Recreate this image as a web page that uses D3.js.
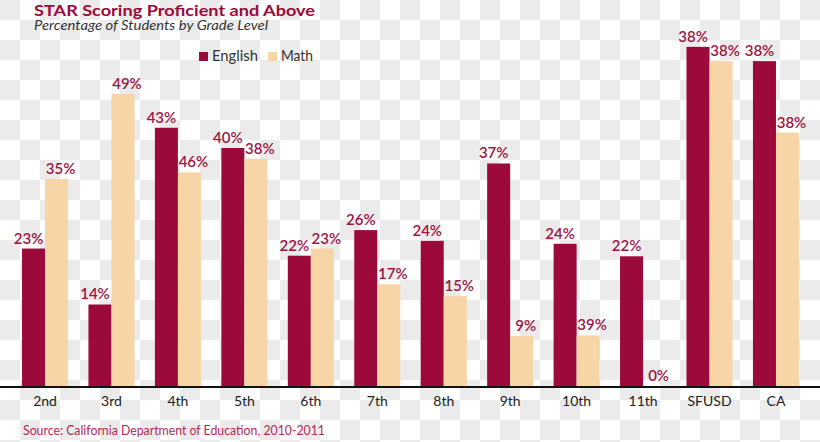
<!DOCTYPE html>
<html>
<head>
<meta charset="utf-8">
<script src="https://cdn.jsdelivr.net/npm/d3@7"></script>
<style>
  html, body { margin: 0; padding: 0; background: #fff; }
  svg { display: block; }
  text { font-family: Lato, "Open Sans", sans-serif; }
</style>
</head>
<body>
<svg id="chart" width="820" height="442"></svg>
<script>
// ---- data ----
const categories = ["2nd", "3rd", "4th", "5th", "6th", "7th", "8th", "9th", "10th", "11th", "SFUSD", "CA"];
const seriesNames = ["English", "Math"];
// bar heights as drawn (percent)
const englishValues = [23.1, 13.7, 43.4, 40.0, 21.9, 26.2, 24.4, 37.4, 23.9, 21.8, 57.0, 54.6];
const mathValues    = [34.8, 49.1, 35.9, 38.2, 23.1, 17.1, 15.1, 8.4, 8.5, 0, 54.6, 42.6];
// labels as printed on the chart
const englishLabels = ["23%", "14%", "43%", "40%", "22%", "26%", "24%", "37%", "24%", "22%", "38%", "38%"];
const mathLabels    = ["35%", "49%", "46%", "38%", "23%", "17%", "15%", "9%", "39%", "0%", "38%", "38%"];
const yDomain = [0, 60];

const colors = { English: "#9c0a3b", Math: "#f8d5a6" };
const labelColor = "#9c1545";

const svg = d3.select("#chart");
const W = 820, H = 442;

// checkerboard background
const defs = svg.append("defs");
const pat = defs.append("pattern").attr("id", "checker")
  .attr("width", 40).attr("height", 40).attr("patternUnits", "userSpaceOnUse");
pat.append("rect").attr("width", 40).attr("height", 40).attr("fill", "#ffffff");
pat.append("rect").attr("x", 0).attr("y", 0).attr("width", 20).attr("height", 20).attr("fill", "#ebebeb");
pat.append("rect").attr("x", 20).attr("y", 20).attr("width", 20).attr("height", 20).attr("fill", "#ebebeb");
svg.append("rect").attr("width", W).attr("height", H).attr("fill", "url(#checker)");

const baseY = 386;
const x0 = d3.scaleBand().domain(categories).range([22, 799]).paddingInner(0.307).paddingOuter(0);
const x1 = d3.scaleBand().domain(seriesNames).range([0, x0.bandwidth()]).padding(0);
const y = d3.scaleLinear().domain(yDomain).range([baseY, baseY - 357]);

const rows = categories.map((c, i) => ({
  cat: c,
  vals: [
    { s: "English", v: englishValues[i], label: englishLabels[i], dx: -5 },
    { s: "Math", v: mathValues[i], label: mathLabels[i], dx: 4 }
  ]
}));

const g = svg.selectAll("g.grp").data(rows).join("g")
  .attr("class", "grp")
  .attr("transform", d => `translate(${x0(d.cat)},0)`);

g.selectAll("rect").data(d => d.vals).join("rect")
  .attr("x", d => x1(d.s))
  .attr("y", d => y(d.v))
  .attr("width", x1.bandwidth())
  .attr("height", d => y(0) - y(d.v))
  .attr("fill", d => colors[d.s]);

g.selectAll("text.val").data(d => d.vals).join("text")
  .attr("class", "val")
  .attr("x", d => x1(d.s) + x1.bandwidth() / 2 + d.dx)
  .attr("y", d => y(d.v) - 5)
  .attr("text-anchor", "middle")
  .attr("font-size", 15)
  .attr("font-weight", 600)
  .attr("fill", labelColor)
  .text(d => d.label);

// axis line
svg.append("line").attr("x1", 0).attr("x2", W).attr("y1", baseY + 1).attr("y2", baseY + 1)
  .attr("stroke", "#111").attr("stroke-width", 2);

// category axis (labels only)
const xAxis = d3.axisBottom(x0).tickSize(0).tickPadding(0);
const ax = svg.append("g").attr("transform", `translate(0,${baseY + 10})`).call(xAxis);
ax.select(".domain").remove();
ax.selectAll("text").attr("font-size", 14).attr("fill", "#222")
  .attr("font-family", "Lato, 'Open Sans', sans-serif")
  .attr("dy", "0.71em");

// title & subtitle
svg.append("text").attr("x", 34).attr("y", 15.5).attr("font-size", 16).attr("font-weight", 700)
  .attr("fill", "#9c0a3b").attr("textLength", 281).attr("lengthAdjust", "spacingAndGlyphs")
  .text("STAR Scoring Proficient and Above");
svg.append("text").attr("x", 34).attr("y", 29.5).attr("font-size", 12.5).attr("font-style", "italic")
  .attr("fill", "#333").attr("textLength", 234).attr("lengthAdjust", "spacingAndGlyphs")
  .text("Percentage of Students by Grade Level");

// legend
const legendX = [199, 268];
const legendTextW = [46, 32];
seriesNames.forEach((s, i) => {
  svg.append("rect").attr("x", legendX[i]).attr("y", 52).attr("width", 9).attr("height", 9).attr("fill", colors[s]);
  svg.append("text").attr("x", legendX[i] + 13).attr("y", 61).attr("font-size", 15).attr("fill", "#333")
    .attr("textLength", legendTextW[i]).attr("lengthAdjust", "spacingAndGlyphs")
    .text(s);
});

// source
svg.append("text").attr("x", 23).attr("y", 435).attr("font-size", 13.5).attr("fill", "#b02a58")
  .attr("textLength", 302).attr("lengthAdjust", "spacingAndGlyphs")
  .text("Source: California Department of Education, 2010-2011");
</script>
</body>
</html>
